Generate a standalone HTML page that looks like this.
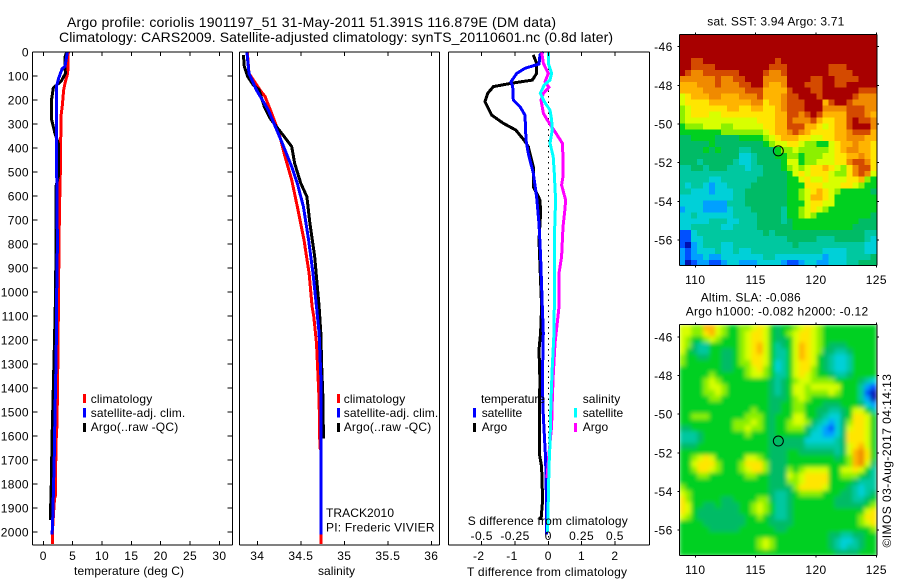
<!DOCTYPE html>
<html>
<head>
<meta charset="utf-8">
<title>Argo profile</title>
<style>
html,body{margin:0;padding:0;background:#fff;width:900px;height:580px;overflow:hidden}
svg{display:block;position:absolute;left:0;top:0}
text{font-family:"Liberation Sans",sans-serif;font-size:12px;fill:#000}
.t{font-size:14px}
</style>
</head>
<body>
<svg id="chart" width="900" height="580" viewBox="0 0 900 580" xmlns="http://www.w3.org/2000/svg">
<defs>
<clipPath id="clip-sst"><rect x="679.5" y="34.5" width="197.5" height="231"/></clipPath>
<clipPath id="clip-sla"><rect x="679.5" y="324.5" width="197.5" height="231"/></clipPath>
<filter id="soft" x="-5%" y="-5%" width="110%" height="110%"><feGaussianBlur stdDeviation="2.2"/></filter>
</defs>
<text class="t" x="67" y="27" textLength="489" lengthAdjust="spacing">Argo profile: coriolis 1901197_51 31-May-2011 51.391S 116.879E (DM data)</text>
<text class="t" x="59" y="42" textLength="554" lengthAdjust="spacing">Climatology: CARS2009. Satellite-adjusted climatology: synTS_20110601.nc (0.8d later)</text>

<g id="maps"></g>
<g id="lines"></g>
<g id="axes"></g>

<text x="74" y="575" textLength="110" lengthAdjust="spacing">temperature (deg C)</text>
<text x="318" y="575" textLength="37" lengthAdjust="spacing">salinity</text>
<text x="467.7" y="525" textLength="160" lengthAdjust="spacing">S difference from climatology</text>
<text x="467" y="576" textLength="160" lengthAdjust="spacing">T difference from climatology</text>

<g>
<rect x="83" y="394" width="3" height="9" fill="#f00"/>
<rect x="83" y="408" width="3" height="9.500" fill="#00f"/>
<rect x="83" y="423" width="3" height="9" fill="#000"/>
<text x="90.700" y="403" textLength="61.500" lengthAdjust="spacing">climatology</text>
<text x="90.700" y="417" textLength="94.500" lengthAdjust="spacing">satellite-adj. clim.</text>
<text x="90.700" y="431" textLength="87.500" lengthAdjust="spacing">Argo(..raw -QC)</text>
</g>
<g>
<rect x="337" y="394" width="3" height="9" fill="#f00"/>
<rect x="337" y="408" width="3" height="9.500" fill="#00f"/>
<rect x="337" y="423" width="3" height="9" fill="#000"/>
<text x="343.700" y="403" textLength="61.500" lengthAdjust="spacing">climatology</text>
<text x="343.700" y="417" textLength="94.500" lengthAdjust="spacing">satellite-adj. clim.</text>
<text x="343.700" y="431" textLength="87.500" lengthAdjust="spacing">Argo(..raw -QC)</text>
</g>
<text x="326" y="517" textLength="68" lengthAdjust="spacing">TRACK2010</text>
<text x="326" y="531.500" textLength="108.500" lengthAdjust="spacing">PI: Frederic VIVIER</text>
<g>
<text x="481" y="403" textLength="64" lengthAdjust="spacing">temperature</text>
<rect x="473" y="408" width="3" height="9.500" fill="#00f"/>
<rect x="473" y="423" width="3" height="9" fill="#000"/>
<text x="481.700" y="417" textLength="40.500" lengthAdjust="spacing">satellite</text>
<text x="481.700" y="431" textLength="25.500" lengthAdjust="spacing">Argo</text>
<text x="582.700" y="403" textLength="37.500" lengthAdjust="spacing">salinity</text>
<rect x="574" y="408" width="3" height="9.500" fill="#0ff"/>
<rect x="574" y="423" width="3" height="9" fill="#f0f"/>
<text x="582.700" y="417" textLength="40.500" lengthAdjust="spacing">satellite</text>
<text x="582.700" y="431" textLength="25.500" lengthAdjust="spacing">Argo</text>
</g>
<text x="707.300" y="25.500" textLength="137" lengthAdjust="spacing">sat. SST: 3.94 Argo: 3.71</text>
<text x="700.700" y="301.500" textLength="100" lengthAdjust="spacing">Altim. SLA: -0.086</text>
<text x="685.700" y="315.500" textLength="182.500" lengthAdjust="spacing">Argo h1000: -0.082 h2000: -0.12</text>
<text transform="translate(891,547.500) rotate(-90)" x="0" y="0" textLength="173.500" lengthAdjust="spacing">©IMOS 03-Aug-2017 04:14:13</text>
</svg>
<script>
// ---------- profile data ----------
const depthTicks = [0,100,200,300,400,500,600,700,800,900,1000,1100,1200,1300,1400,1500,1600,1700,1800,1900,2000];
const tempTicks = [0,5,10,15,20,25,30];
const salTicks = [34,34.5,35,35.5,36];
const salTickLabels = ['34','34.5','35','35.5','36'];
const diffTTicks = [-2,-1,0,1,2];
const diffSTicks = [-0.5,-0.25,0,0.25,0.5];
const diffSTickLabels = ['-0.5','-0.25','0','0.25','0.5'];

const climTempDepth = [0,88,130,160,220,270,450,670,960,1250,1550,1630,1850,1860,2000,2050];
const climTempValue = [4.26,4.15,3.7,3.45,3.25,3.0,2.95,2.75,2.6,2.5,2.33,2.16,2.05,1.9,1.55,1.55];
const satTempDepth = [0,60,70,110,140,500,800,1000,1250,1500,1700,1950,2010];
const satTempValue = [4.1,3.7,3.2,2.6,2.28,2.28,2.4,2.28,2.2,2.0,1.85,1.6,1.5];
const argoTempDepth = [0,20,90,120,150,200,280,340,380,520,560,780,1000,1200,1400,1600,1800,1950];
const argoTempValue = [4.0,3.7,3.75,3.1,1.7,1.4,1.4,2.0,2.55,2.55,2.16,2.16,2.1,1.9,1.7,1.5,1.36,1.2];

const climSalDepth = [0,89,158,186,256,339,436,533,644,783,922,1061,1103,1214,1367,1450,1650,1660,2000,2050];
const climSalValue = [33.885,33.905,34.03,34.09,34.165,34.25,34.318,34.395,34.46,34.537,34.595,34.63,34.65,34.68,34.7,34.71,34.72,34.735,34.735,34.735];
const satSalDepth = [0,89,158,242,339,408,478,547,644,783,922,1061,1171,1350,1450,2010];
const satSalValue = [33.88,33.905,33.99,34.127,34.24,34.318,34.395,34.46,34.53,34.59,34.64,34.68,34.71,34.73,34.735,34.735];
const argoSalDepth = [12,60,102,137,158,228,276,311,353,394,464,547,603,714,853,1061,1171,1310,1450,1610];
const argoSalValue = [33.84,33.85,33.89,33.954,34.02,34.08,34.146,34.22,34.31,34.395,34.43,34.5,34.57,34.605,34.66,34.71,34.73,34.74,34.755,34.76];

const argoDTDepth = [12,47,89,117,130,144,172,207,263,297,325,367,394,478,561,617,672,783,894,1061,1171,1240,1378,1450,1672,1728,1867,1950];
const argoDTValue = [-0.45,-0.35,-0.35,-0.48,-1.1,-1.65,-1.82,-1.9,-1.7,-1.35,-0.98,-0.73,-0.6,-0.45,-0.45,-0.25,-0.23,-0.28,-0.25,-0.2,-0.23,-0.28,-0.25,-0.27,-0.27,-0.2,-0.17,-0.22];
const satDTDepth = [0,12,50,68,89,124,144,200,228,263,367,422,505,603,714,853,1061,1171,1378,1514,1694,1833,1958,2010];
const satDTValue = [-0.15,-0.25,-0.28,-0.7,-0.95,-1.12,-1.07,-1.05,-0.85,-0.7,-0.67,-0.6,-0.45,-0.35,-0.28,-0.23,-0.18,-0.15,-0.18,-0.15,-0.08,-0.06,-0.05,-0.05];
const argoDSDepth = [0,47,89,124,147,172,200,256,290,332,380,436,519,554,617,658,728,853,922,1061,1089,1214,1350,1450,1560,1672,1775];
const argoDSValue = [-0.05,-0.037,0,-0.025,0.005,-0.037,-0.055,-0.037,0,0.05,0.105,0.11,0.11,0.1,0.13,0.125,0.11,0.1,0.08,0.08,0.075,0.05,0.037,0.03,0.025,0.005,-0.01];
const satDSDepth = [0,47,89,117,137,172,207,242,283,325,380,436,505,617,783,1061,1171,1310,1450,1630,1728,1867,2000];
const satDSValue = [0,0,0.025,0.012,-0.03,-0.06,-0.03,0.013,0.025,0.03,0.013,0.037,0.045,0.055,0.045,0.045,0.043,0.03,0.02,0.013,0.005,0,-0.005];

// ---------- map data ----------
const mapLonTicks = [110,115,120,125];
const mapLatTicks = [-46,-48,-50,-52,-54,-56];
const levelColors = ['#0010b0','#0050ff','#00a0ff','#00d0d8','#00c8a0','#00bb66','#00d020','#8cf000','#d8ff00','#ffe600','#ffb400','#f08a00','#d44a00','#a80000'];
const sstLevels = [
[13,13,13,13,13,13,13,13,13,13,13,13,13,13,13,13,13,13,13,13,13,13,13,13,13,13,13,13,13,13,13,13,13],
[13,13,13,13,13,13,13,13,13,13,13,13,13,13,13,13,13,13,13,13,13,13,13,13,13,13,13,13,13,13,13,13,13],
[13,13,13,13,13,13,13,13,13,13,13,13,13,13,13,13,13,13,13,13,13,13,13,13,13,13,13,13,13,13,13,13,13],
[13,13,13,13,13,13,13,13,13,13,13,13,13,13,13,13,13,13,13,13,13,13,13,13,13,13,13,13,13,13,13,13,13],
[13,13,12,12,13,13,13,13,13,13,13,13,13,13,13,13,12,13,13,13,13,13,13,13,13,13,13,13,13,13,13,13,13],
[13,13,12,12,12,12,13,13,13,13,13,13,13,13,13,12,12,12,13,13,13,13,13,13,13,12,12,12,13,13,13,13,13],
[13,12,11,11,12,12,12,12,12,12,13,13,13,13,12,11,11,12,13,13,13,13,13,13,13,12,12,12,12,13,13,13,13],
[11,11,11,11,11,11,12,11,11,12,12,13,13,13,11,11,11,11,13,13,13,13,12,12,13,13,12,12,12,12,13,13,13],
[10,10,10,11,11,11,12,11,11,11,12,12,13,13,11,10,10,11,13,13,13,12,12,12,13,13,12,12,13,13,13,13,13],
[10,10,10,10,11,11,11,11,11,11,11,12,12,12,10,10,10,10,12,13,13,13,12,12,13,13,13,13,13,13,12,12,12],
[8,9,10,10,10,11,11,10,10,10,11,11,11,12,10,10,10,11,12,12,13,13,13,12,13,13,13,13,13,12,11,11,11],
[8,9,9,9,9,10,10,10,10,10,10,10,11,11,9,10,10,11,12,12,12,13,13,13,10,12,13,13,12,11,11,11,11],
[7,8,9,9,9,9,9,9,10,10,9,9,10,10,9,9,10,11,12,12,12,13,13,13,11,11,11,11,12,12,12,11,11],
[7,8,9,9,9,8,8,9,9,9,9,9,9,9,9,9,10,10,12,12,11,12,13,12,10,10,10,10,12,12,12,11,10],
[7,8,8,8,8,8,8,8,8,8,8,8,8,9,9,9,10,10,12,11,11,11,12,10,9,9,10,10,12,13,12,12,11],
[6,7,7,7,8,8,8,7,7,8,8,8,8,8,9,9,10,10,12,12,12,10,10,9,8,9,10,10,12,13,13,13,11],
[6,6,6,6,6,6,6,7,7,7,7,7,7,7,8,9,10,10,11,12,11,10,9,9,9,9,10,10,11,12,12,12,10],
[5,5,6,6,6,6,5,5,5,5,6,6,6,6,7,8,9,10,10,10,9,9,8,8,9,9,10,10,11,11,11,10,10],
[5,5,5,5,5,6,5,5,5,5,5,5,5,5,6,7,8,8,9,9,8,7,7,6,6,8,9,10,10,11,10,10,9],
[5,5,5,5,6,5,6,5,5,5,4,4,5,5,5,5,6,7,7,8,7,7,7,7,7,8,9,10,11,11,10,10,9],
[5,5,5,5,5,5,5,5,5,5,3,3,4,5,5,5,6,6,7,7,6,7,7,7,8,8,9,9,10,10,11,10,9],
[5,5,5,4,5,5,5,5,5,4,3,3,4,5,5,5,5,6,8,8,6,7,7,8,8,8,9,9,11,12,12,11,9],
[4,4,5,5,4,5,5,5,4,4,4,3,4,4,5,5,5,6,7,8,7,8,9,9,10,9,8,7,9,11,12,12,9],
[4,4,4,4,4,4,4,4,4,4,4,4,4,4,5,5,5,5,6,8,9,8,9,9,9,8,7,7,9,11,12,11,8],
[4,4,4,4,4,3,3,4,4,4,4,4,4,5,5,5,5,5,6,6,8,9,8,8,9,8,8,8,9,9,10,7,6],
[4,3,4,4,3,2,3,3,4,4,4,4,5,5,5,5,5,5,6,6,6,9,9,9,8,8,8,9,9,8,7,6,6],
[4,4,3,3,3,2,3,3,3,4,4,5,5,5,5,5,5,5,6,6,7,8,9,10,9,8,7,6,6,6,6,6,5],
[3,3,3,3,3,3,3,3,3,4,4,5,5,5,5,5,5,5,6,6,7,8,10,10,9,8,6,6,6,6,6,6,6],
[3,3,3,3,2,2,2,2,4,4,4,5,5,5,5,5,5,5,6,6,6,8,9,9,8,8,6,6,6,6,6,6,6],
[2,3,3,3,2,2,2,2,3,4,4,4,5,5,5,5,5,4,6,6,7,8,9,8,7,6,6,6,6,6,6,6,6],
[3,3,4,3,3,3,3,3,3,4,4,4,4,5,5,5,5,4,6,6,7,8,7,6,6,6,6,6,6,6,6,6,5],
[3,3,3,3,3,4,4,4,3,3,4,4,4,5,5,5,5,4,5,6,6,6,6,6,6,6,6,6,6,6,5,5,5],
[3,3,4,4,4,4,4,3,3,4,4,4,4,5,5,5,5,5,5,6,6,6,6,6,6,6,6,6,6,5,5,5,5],
[1,1,3,4,4,4,4,4,4,4,4,4,4,4,5,4,5,5,5,5,5,5,5,5,5,5,5,5,5,5,5,4,4],
[1,1,3,3,4,4,4,4,4,4,4,4,4,4,4,4,4,4,5,5,5,5,5,4,4,4,5,5,5,5,5,4,3],
[1,0,2,3,4,4,4,3,3,4,4,4,4,4,4,4,4,4,4,5,4,4,4,4,4,4,4,4,4,4,4,3,3],
[2,1,2,3,3,3,4,3,3,4,3,3,4,4,4,4,4,4,4,4,4,4,4,4,3,3,3,3,4,4,4,3,3],
[2,1,2,2,3,2,2,3,3,3,3,3,3,3,4,4,3,3,3,3,3,3,3,3,2,3,3,3,4,4,4,4,5],
[2,0,1,2,2,1,1,2,3,3,2,2,2,3,3,3,3,2,1,1,2,3,3,2,2,3,3,3,4,4,5,5,5]
];
const slaLevels = [
[8,8,7,7,10,10,8,7,6,6,7,7,8,9,8,6,5,6,6,7,8,9,8,7,6,6,6,6,6,6,6,6,6],
[8,8,7,7,9,10,8,7,6,6,7,8,9,9,8,6,5,6,7,8,9,9,8,7,6,6,6,6,6,6,6,6,6],
[8,7,6,6,7,8,7,6,6,6,7,8,9,9,8,6,5,5,6,8,9,9,8,7,6,6,6,6,6,6,6,6,6],
[8,7,5,4,4,6,6,6,6,6,7,8,9,10,8,6,4,5,6,8,10,9,8,7,6,5,5,5,6,6,6,6,6],
[8,6,5,4,4,6,6,5,5,6,7,8,9,10,8,6,4,4,6,8,10,9,8,7,5,5,4,4,5,6,6,6,6],
[7,6,6,5,5,6,6,5,5,6,7,8,9,9,8,6,4,4,6,8,10,9,8,6,5,4,3,3,4,6,6,6,6],
[7,6,6,6,6,6,6,5,5,6,7,7,9,9,8,6,3,4,6,8,9,9,8,6,5,4,3,3,4,6,6,6,6],
[6,6,6,6,6,6,6,5,5,6,6,7,8,9,7,6,3,4,6,8,9,9,7,6,5,4,3,3,4,6,6,6,6],
[6,6,6,6,6,7,6,6,6,6,6,7,8,8,7,6,4,4,6,8,9,8,7,6,6,5,4,4,5,6,6,6,6],
[6,6,6,6,7,8,7,6,6,6,6,6,6,6,6,5,4,5,6,7,8,8,7,7,7,7,6,6,6,6,5,4,3],
[6,6,6,6,7,8,8,7,6,6,6,6,6,6,6,5,4,5,6,8,8,7,8,8,8,8,8,6,6,6,4,2,1],
[6,6,6,6,7,7,8,7,6,6,6,6,6,6,6,5,4,5,6,8,8,7,7,7,7,8,7,6,6,6,4,1,0],
[6,6,6,6,6,7,7,6,6,6,6,6,6,6,6,5,5,5,6,7,8,7,6,6,6,6,6,6,6,6,4,2,0],
[6,6,6,6,6,6,6,6,6,6,6,6,6,6,6,5,5,6,6,7,7,6,6,6,5,5,5,6,6,6,5,3,2],
[6,6,6,6,6,6,6,6,6,6,6,6,7,6,6,5,5,6,6,7,7,6,6,5,5,4,4,5,6,8,8,6,4],
[6,6,7,7,7,6,6,6,6,6,6,7,7,7,6,5,6,6,6,8,8,6,6,5,4,3,3,5,6,9,9,8,6],
[6,6,6,6,6,6,6,6,6,7,7,7,8,7,6,5,6,6,7,8,8,7,5,4,3,2,3,5,7,9,9,8,6],
[5,5,6,6,6,6,6,6,6,7,7,8,7,7,6,5,6,6,7,7,7,5,4,3,2,1,3,5,8,9,9,8,6],
[4,4,4,5,6,6,6,6,6,6,6,7,6,6,6,5,6,6,6,6,6,5,3,3,2,2,3,5,9,9,9,8,6],
[4,4,4,5,6,6,6,6,6,6,6,6,6,6,6,5,5,5,5,5,5,3,3,3,3,3,4,5,9,9,9,8,6],
[5,5,5,6,6,6,6,6,6,6,6,6,6,6,6,5,5,5,5,5,5,4,4,4,4,4,4,5,8,9,10,8,6],
[6,6,6,6,6,6,6,6,6,6,6,6,6,6,6,5,5,5,6,6,5,5,5,5,5,5,4,5,8,10,11,9,6],
[6,6,7,8,9,8,6,6,6,6,6,8,8,7,6,5,5,5,6,6,6,6,6,6,6,6,5,6,7,10,11,9,6],
[6,6,8,9,9,9,7,6,6,6,7,9,9,9,7,5,5,5,6,6,6,6,6,6,6,6,6,6,7,10,11,8,5],
[6,6,7,9,9,8,7,6,6,6,7,8,9,9,7,5,5,5,7,6,7,8,8,8,8,6,6,8,8,9,8,6,4],
[6,6,6,7,7,6,6,6,6,6,6,7,7,6,6,5,5,5,8,7,8,9,9,9,9,6,6,7,7,7,6,5,4],
[6,6,6,6,6,6,6,6,6,6,6,6,6,6,6,5,5,5,7,7,8,9,9,9,9,6,6,6,6,5,4,4,4],
[7,6,6,6,6,6,6,6,6,6,6,6,6,6,6,5,5,5,5,7,9,9,9,9,8,6,6,6,5,4,3,4,4],
[8,7,6,6,6,6,6,6,6,6,6,6,6,6,6,5,4,4,5,6,7,7,7,7,6,6,6,5,5,4,3,4,5],
[9,7,6,6,6,6,6,5,5,6,6,6,6,7,7,5,4,4,5,6,6,6,6,6,6,6,5,5,5,4,4,5,6],
[9,8,6,6,5,5,6,5,5,5,6,6,7,8,7,6,4,4,5,6,6,6,6,6,6,6,5,5,5,5,5,6,7],
[9,8,6,5,5,5,5,5,5,5,6,6,7,8,7,6,4,4,5,6,6,6,6,6,6,6,6,6,6,6,6,8,9],
[8,7,6,5,5,5,5,5,5,5,5,6,6,7,6,5,4,4,5,6,6,6,6,6,6,6,6,6,6,6,7,9,9],
[6,6,6,6,5,5,5,5,5,5,5,6,6,6,6,5,5,5,5,6,6,6,6,6,6,6,6,6,6,6,7,8,9],
[6,6,6,6,6,5,5,5,5,5,6,6,6,6,6,6,5,5,6,6,6,6,6,6,6,6,6,6,6,6,6,6,7],
[6,6,6,6,6,6,6,6,6,6,6,6,6,6,6,6,6,6,6,6,6,6,6,6,6,5,5,4,4,5,5,6,6],
[6,6,6,6,6,6,6,6,6,6,6,6,6,7,8,7,6,6,6,6,6,6,6,6,6,5,4,3,3,4,5,6,6],
[6,6,6,6,6,6,6,6,6,6,6,6,6,7,8,7,6,6,6,6,6,6,6,6,6,5,4,3,4,4,5,6,6],
[6,6,6,6,6,6,6,6,6,6,6,6,6,6,6,6,6,6,6,6,6,6,6,6,6,6,5,5,5,5,6,6,6]
];
const floatLon = [116.879];
const floatLat = [-51.391];

// ---------- axis functions ----------
const NS = 'http://www.w3.org/2000/svg';
const yDepth = d => 52 + 0.24 * d;
const xTemp = t => 43.3 + 5.87 * t;
const xSal = s => 257.3 + 87 * (s - 34);
const xDT = t => 548.3 + 33.3 * t;
const xDS = s => 548.3 + 133.2 * s;
const xLon = lon => 695.3 + 12.07 * (lon - 110);
const ySstLat = lat => 46.7 + 19.33 * (-46 - lat);
const ySlaLat = lat => 337 + 19.3 * (-46 - lat);
const LON_START = 108.67, LON_END = 125;
const LAT_START = -45.36, LAT_END = -57.33;

function mk(tag, attrs, parent, text) {
  const e = document.createElementNS(NS, tag);
  for (const k in attrs) e.setAttribute(k, attrs[k]);
  if (text !== undefined) e.textContent = text;
  parent.appendChild(e);
  return e;
}
const axesG = document.getElementById('axes');
const linesG = document.getElementById('lines');
const mapsG = document.getElementById('maps');

function seg(x1, y1, x2, y2) {
  const l = mk('line', {x1, y1, x2, y2, stroke: '#000', 'stroke-width': 1, 'shape-rendering': 'crispEdges'}, axesG);
  
  
  return l;
}
function label(x, y, anchor, str) {
  const t = mk('text', {x, y, 'text-anchor': anchor, 'letter-spacing': '0.4'}, axesG, str);
  
  
  return t;
}
function profile(depths, values, xf, color, name) {
  const pts = depths.map((d, i) => xf(values[i]).toFixed(1) + ',' + yDepth(d).toFixed(1)).join(' ');
  const p = mk('polyline', {points: pts, fill: 'none', stroke: color, 'stroke-width': 3, 'stroke-linejoin': 'miter', 'shape-rendering': 'crispEdges'}, linesG);
  
  
}
function heatmap(levels, yf, clipId, soft, name) {
  const outer = mk('g', {'clip-path': 'url(#' + clipId + ')'}, mapsG);
  
  
  const g = mk('g', soft ? {filter: 'url(#soft)'} : {'shape-rendering': 'crispEdges'}, outer);
  const rows = levels.length, cols = levels[0].length;
  const dLon = (LON_END - LON_START) / cols, dLat = (LAT_START - LAT_END) / rows;
  levels.forEach((row, r) => row.forEach((v, c) => {
    const x0 = xLon(LON_START + c * dLon), x1 = xLon(LON_START + (c + 1) * dLon);
    const y0 = yf(LAT_START - r * dLat), y1 = yf(LAT_START - (r + 1) * dLat);
    const cell = mk('rect', {x: x0.toFixed(2), y: y0.toFixed(2), width: (x1 - x0 + 0.6).toFixed(2), height: (y1 - y0 + 0.6).toFixed(2), fill: levelColors[v]}, g);
    
    
  }));
}
function mapFrame(yf, top, bottom, labelY) {
  const left = 679.5, right = 877;
  seg(left, top, right, top); seg(left, bottom, right, bottom);
  seg(left, top, left, bottom); seg(right, top, right, bottom);
  mapLonTicks.forEach(v => {
    seg(xLon(v), top - 2, xLon(v), top);
    seg(xLon(v), bottom, xLon(v), bottom + 2);
    label(xLon(v), labelY, 'middle', String(v));
  });
  mapLatTicks.forEach(v => {
    seg(left - 2, yf(v), left, yf(v));
    seg(right, yf(v), right + 2, yf(v));
    label(672.7, yf(v) + 4.5, 'end', String(v));
  });
  const m = mk('circle', {cx: xLon(floatLon[0]), cy: yf(floatLat[0]), r: 5, fill: 'none', stroke: '#000', 'stroke-width': 1}, axesG);
  
  
}

// ---------- maps ----------
heatmap(sstLevels, ySstLat, 'clip-sst', false, 'sst-heatmap');
heatmap(slaLevels, ySlaLat, 'clip-sla', true, 'sla-heatmap');
mapFrame(ySstLat, 34.5, 265.5, 284);
mapFrame(ySlaLat, 324.5, 555.5, 574);

// ---------- profile panels ----------
const dotted = mk('line', {x1: xDT(0), y1: 52, x2: xDT(0), y2: 545, stroke: '#000', 'stroke-width': 1, 'stroke-dasharray': '1.500 4', 'shape-rendering': 'crispEdges'}, linesG);



profile(climTempDepth, climTempValue, xTemp, '#f00', 'temperature-climatology-line');
profile(argoTempDepth, argoTempValue, xTemp, '#000', 'temperature-argo-line');
profile(satTempDepth, satTempValue, xTemp, '#00f', 'temperature-satellite-line');
profile(climSalDepth, climSalValue, xSal, '#f00', 'salinity-climatology-line');
profile(argoSalDepth, argoSalValue, xSal, '#000', 'salinity-argo-line');
profile(satSalDepth, satSalValue, xSal, '#00f', 'salinity-satellite-line');
profile(argoDTDepth, argoDTValue, xDT, '#000', 't-difference-argo-line');
profile(satDTDepth, satDTValue, xDT, '#00f', 't-difference-satellite-line');
profile(argoDSDepth, argoDSValue, xDS, '#f0f', 's-difference-argo-line');
profile(satDSDepth, satDSValue, xDS, '#0ff', 's-difference-satellite-line');

function box(l, r) {
  seg(l, 52, r, 52); seg(l, 545, r, 545);
  seg(l, 52, l, 545); seg(r, 52, r, 545);
}
box(32.5, 232.5);
box(239.5, 439.5);
box(448.5, 649.5);

depthTicks.forEach(d => {
  seg(32.5, yDepth(d), 37.5, yDepth(d));
  seg(227.5, yDepth(d), 232.5, yDepth(d));
  label(29, yDepth(d) + 4.5, 'end', String(d));
});
tempTicks.forEach(v => {
  seg(xTemp(v), 52, xTemp(v), 56);
  seg(xTemp(v), 541, xTemp(v), 545);
  label(xTemp(v), 560, 'middle', String(v));
});
salTicks.forEach((v, i) => {
  seg(xSal(v), 52, xSal(v), 56);
  seg(xSal(v), 541, xSal(v), 545);
  label(xSal(v), 560, 'middle', salTickLabels[i]);
});
diffTTicks.forEach(v => {
  seg(xDT(v), 52, xDT(v), 56);
  seg(xDT(v), 541, xDT(v), 545);
  label(xDT(v) - (v < 0 ? 3 : 0), 560, 'middle', String(v));
});
diffSTicks.forEach((v, i) => {
  label(xDS(v), 540, 'middle', diffSTickLabels[i]);
});
</script>
</body>
</html>
